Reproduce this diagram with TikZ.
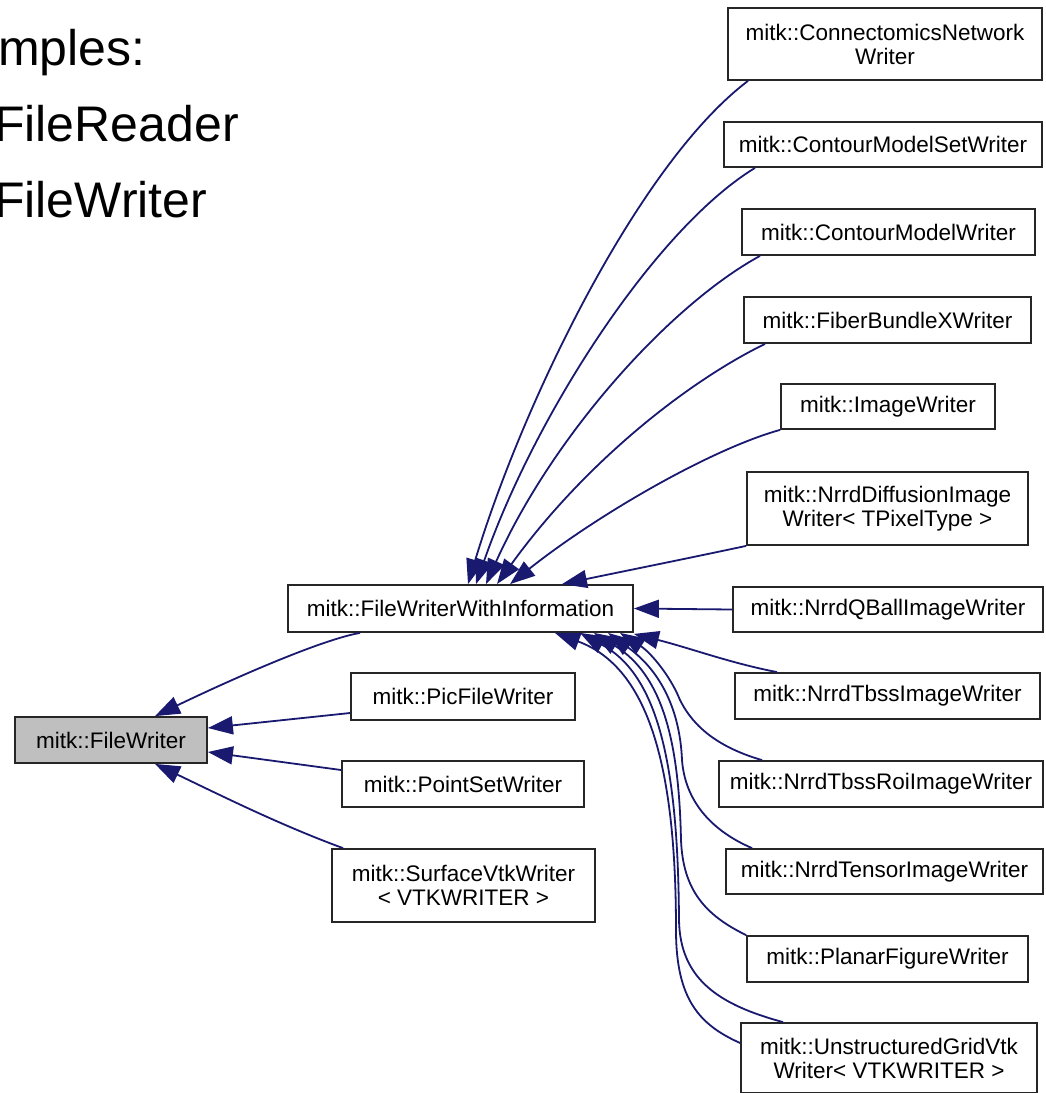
\documentclass[tikz,border=0pt]{standalone}
\usepackage{fontspec}
\setmainfont{Liberation Sans}
\usetikzlibrary{arrows.meta}
\definecolor{edgeblue}{HTML}{191970}
\definecolor{boxgray}{HTML}{BFBFBF}
\begin{document}
\begin{tikzpicture}[x=1pt,y=-1pt,
  cls/.style={draw=black!85, line width=1.8pt, fill=white, inner sep=0pt, align=center,
    font=\fontsize{22.5}{24}\selectfont},
  big/.style={anchor=base west, inner sep=0pt, font=\fontsize{50}{60}\selectfont},
  inh/.style={draw=edgeblue, line width=1.8pt, -{Triangle[length=25pt,width=18pt]}, color=edgeblue}
]
\useasboundingbox (0,0) rectangle (1046,1093);
\clip (0,0) rectangle (1046,1093);
\fill[white] (0,0) rectangle (1046,1093);

% title texts (partially cut off)
\node[big] (t1) at (-2,65) {mples:};
\node[big] (t2) at (-6,141) {FileReader};
\node[big] (t3) at (-6,217) {FileWriter};

% nodes
\node[cls, fill=boxgray, minimum width=192pt, minimum height=46pt] (fw) at (111,740) {mitk::FileWriter};
\node[cls, minimum width=345pt, minimum height=47pt] (fwwi) at (460.5,608.5) {mitk::FileWriterWithInformation};
\node[cls, minimum width=224pt, minimum height=47pt] (pic) at (463,696.5) {mitk::PicFileWriter};
\node[cls, minimum width=242pt, minimum height=46pt] (pset) at (463,784) {mitk::PointSetWriter};
\node[cls, minimum width=263pt, minimum height=73pt] (surf) at (463.5,885.5) {mitk::SurfaceVtkWriter\\\textless{} VTKWRITER \textgreater{}};

\node[cls, minimum width=314pt, minimum height=72pt] (conn) at (885,44) {mitk::ConnectomicsNetwork\\Writer};
\node[cls, minimum width=318pt, minimum height=45pt] (cms) at (883,144.5) {mitk::ContourModelSetWriter};
\node[cls, minimum width=293pt, minimum height=46pt] (cm) at (888.5,232) {mitk::ContourModelWriter};
\node[cls, minimum width=287pt, minimum height=46pt] (fib) at (887.5,320) {mitk::FiberBundleXWriter};
\node[cls, minimum width=214pt, minimum height=45pt] (img) at (888,406.5) {mitk::ImageWriter};
\node[cls, minimum width=281pt, minimum height=73pt] (diff) at (887.5,508.5) {mitk::NrrdDiffusionImage\\Writer\textless{} TPixelType \textgreater{}};
\node[cls, minimum width=310pt, minimum height=45pt] (qball) at (888,609.5) {mitk::NrrdQBallImageWriter};
\node[cls, minimum width=305pt, minimum height=46pt] (tbss) at (887.5,696) {mitk::NrrdTbssImageWriter};
\node[cls, minimum width=324pt, minimum height=46pt] (roi) at (881,784) {mitk::NrrdTbssRoiImageWriter};
\node[cls, minimum width=317pt, minimum height=45pt] (tensor) at (884.5,871.5) {mitk::NrrdTensorImageWriter};
\node[cls, minimum width=281pt, minimum height=46pt] (planar) at (887.5,959) {mitk::PlanarFigureWriter};
\node[cls, minimum width=296pt, minimum height=70pt] (ugrid) at (889,1058) {mitk::UnstructuredGridVtk\\Writer\textless{} VTKWRITER \textgreater{}};

% edges to FileWriter
\draw[inh] ([xshift=-100.5pt]fwwi.south) .. controls (320,640) and (230,680) .. ([xshift=44pt]fw.north);
\draw[inh] ([yshift=-16.5pt]pic.west) -- ([yshift=12pt]fw.east);
\draw[inh] ([yshift=14pt]pset.west) -- ([yshift=-12pt]fw.east);
\draw[inh] ([xshift=-120.5pt]surf.north) .. controls (280,825) and (220,795) .. ([xshift=44pt]fw.south);

% edges to FileWriterWithInformation (from above)
\draw[inh] ([xshift=-137pt]conn.south) .. controls (638,164) and (522,405) .. ([xshift=7.5pt]fwwi.north);
\draw[inh] ([xshift=-128pt]cms.south) .. controls (655,229) and (535,415) .. ([xshift=15.5pt]fwwi.north);
\draw[inh] ([xshift=-128.5pt]cm.south) .. controls (670,305) and (553,435) .. ([xshift=25.5pt]fwwi.north);
\draw[inh] ([xshift=-122.5pt]fib.south) .. controls (685,383) and (583,465) .. ([xshift=36.5pt]fwwi.north);
\draw[inh] (img.south west) .. controls (711,449) and (597,515) .. ([xshift=49.5pt]fwwi.north);
\draw[inh] (diff.south west) .. controls (680,560) and (620,572) .. ([xshift=101.5pt]fwwi.north);

% edges to FileWriterWithInformation (side / below)
\draw[inh] (qball.west) -- (fwwi.east);
\draw[inh] ([xshift=-110.5pt]tbss.north) .. controls (730,663) and (690,648) .. ([yshift=-1pt]fwwi.south east);
\draw[inh] ([xshift=-119pt]roi.north) .. controls (710,745) and (690,720) .. (680,700)
   .. controls (670,675) and (650,652) .. ([xshift=159.5pt]fwwi.south);
\draw[inh] ([xshift=-132.5pt]tensor.north) .. controls (710,830) and (685,800) .. (682,760)
   .. controls (680,712) and (662,672) .. ([xshift=147.5pt]fwwi.south);
\draw[inh] (planar.north west) .. controls (705,915) and (683,890) .. (681,840)
   .. controls (679,745) and (664,676) .. ([xshift=133.5pt]fwwi.south);
\draw[inh] ([xshift=-106pt]ugrid.north) .. controls (720,1005) and (680,980) .. (679,920)
   .. controls (678,770) and (660,676) .. ([xshift=119.5pt]fwwi.south);
\draw[inh] ([yshift=15pt]ugrid.west) .. controls (700,1025) and (676,1000) .. (676,930)
   .. controls (676,770) and (650,668) .. ([xshift=94.5pt]fwwi.south);
\end{tikzpicture}
\end{document}
